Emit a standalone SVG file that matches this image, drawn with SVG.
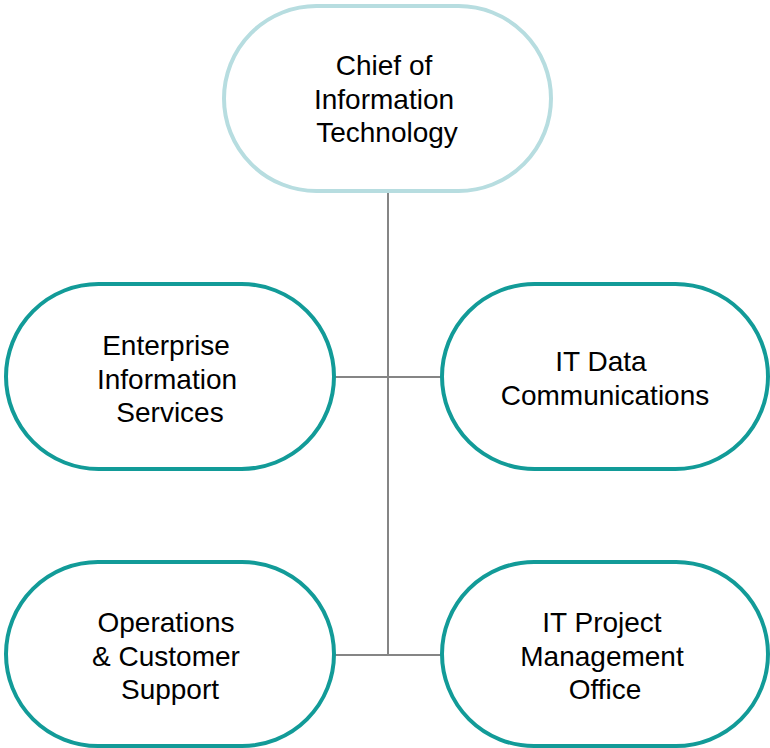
<svg xmlns="http://www.w3.org/2000/svg" width="770" height="748" viewBox="0 0 770 748">
<style>
.node{fill:#ffffff;stroke:#129b98;stroke-width:4}
.top{fill:#ffffff;stroke:#b7dde0;stroke-width:4}
.lbl{font-family:"Liberation Sans",Arial,sans-serif;font-size:28px;fill:#000000;text-anchor:middle}
.conn{stroke:#858585;stroke-width:2;fill:none}
</style>
<rect width="770" height="748" fill="#ffffff"/>
<g id="connectors">
<line class="conn" x1="388" y1="191" x2="388" y2="655"/>
<line class="conn" x1="334" y1="377" x2="442" y2="377"/>
<line class="conn" x1="334" y1="655" x2="442" y2="655"/>
</g>
<g id="chief">
<rect class="top" x="224" y="6" width="327" height="185" rx="92.5" ry="92.5"/>
<text class="lbl" x="384" y="75">Chief of</text>
<text class="lbl" x="384" y="108.5">Information</text>
<text class="lbl" x="387" y="142">Technology</text>
</g>
<g id="enterprise">
<rect class="node" x="6" y="284" width="328" height="185" rx="92.5" ry="92.5"/>
<text class="lbl" x="166" y="355">Enterprise</text>
<text class="lbl" x="167" y="388.5">Information</text>
<text class="lbl" x="170" y="422">Services</text>
</g>
<g id="datacomm">
<rect class="node" x="442" y="284" width="326" height="185" rx="92.5" ry="92.5"/>
<text class="lbl" x="601" y="371">IT Data</text>
<text class="lbl" x="605" y="404.5">Communications</text>
</g>
<g id="operations">
<rect class="node" x="6" y="562" width="328" height="184" rx="92" ry="92"/>
<text class="lbl" x="166" y="632">Operations</text>
<text class="lbl" x="166" y="665.5">&amp; Customer</text>
<text class="lbl" x="170" y="699">Support</text>
</g>
<g id="pmo">
<rect class="node" x="442" y="562" width="326" height="184" rx="92" ry="92"/>
<text class="lbl" x="602" y="632">IT Project</text>
<text class="lbl" x="602" y="665.5">Management</text>
<text class="lbl" x="605" y="699">Office</text>
</g>
</svg>
